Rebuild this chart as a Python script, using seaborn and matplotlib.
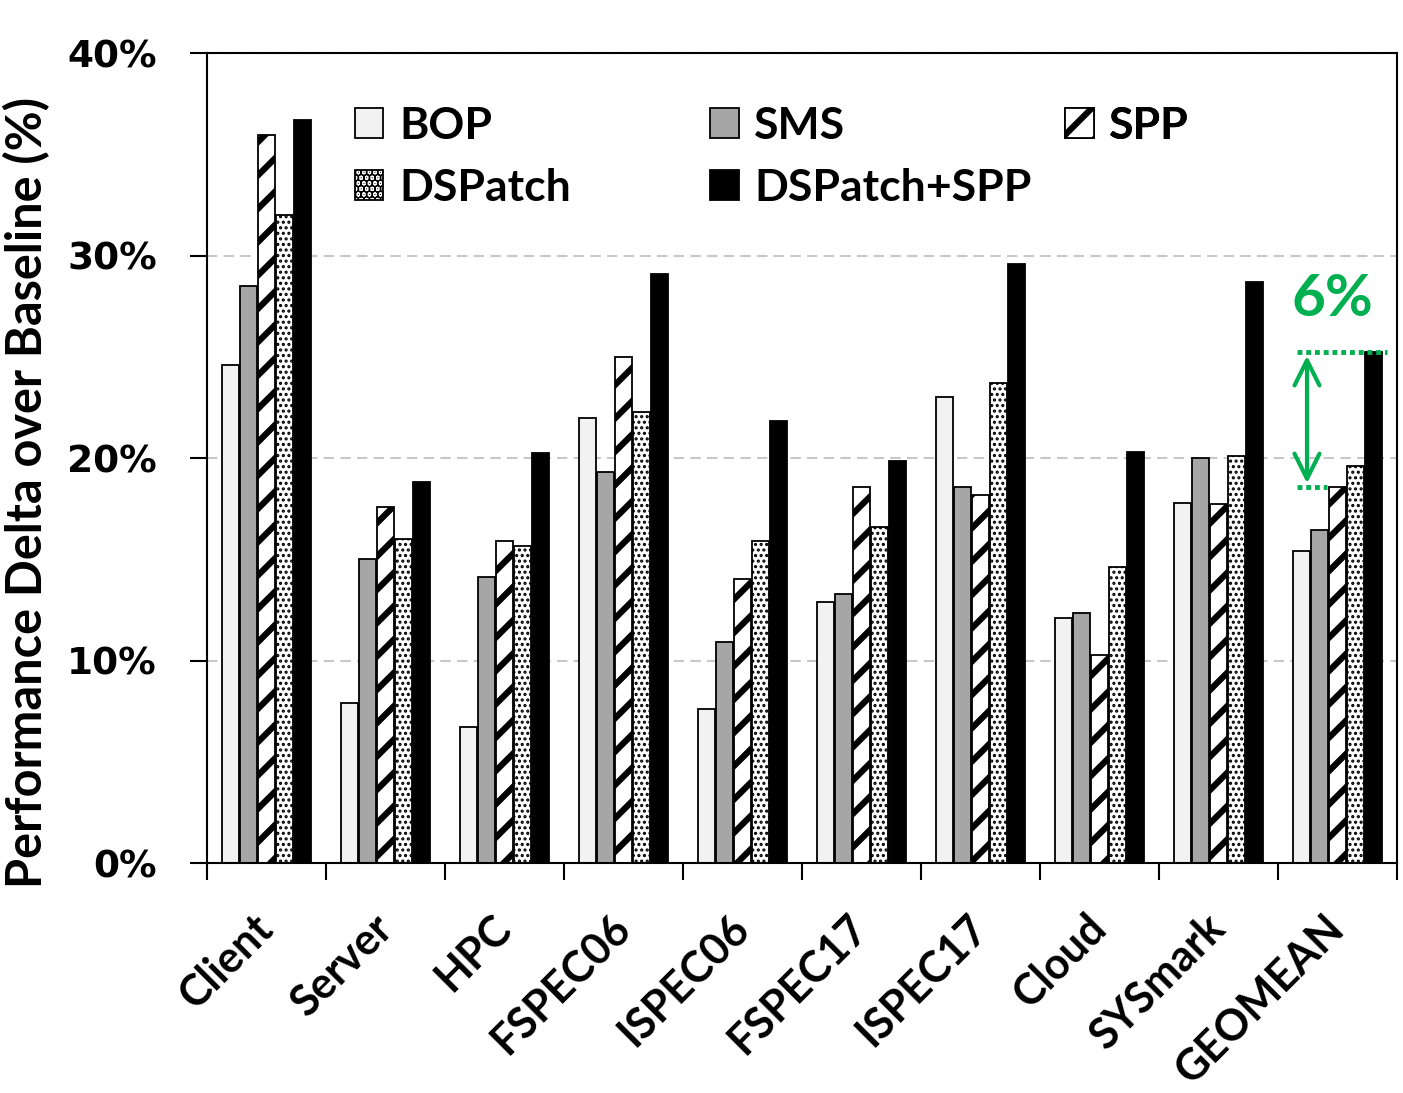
import numpy as np
import pandas as pd
import seaborn as sns
import matplotlib.pyplot as plt

benchmarks = ['Client', 'Server', 'HPC', 'FSPEC06', 'ISPEC06', 'FSPEC17', 'ISPEC17', 'Cloud', 'SYSmark', 'GEOMEAN']
schemes = ['BOP', 'SMS', 'SPP', 'DSPatch', 'DSPatch+SPP']
bop = [24.6, 7.9, 6.7, 22.0, 7.6, 12.9, 23.0, 12.1, 17.8, 15.4]
sms = [28.5, 15.0, 14.1, 19.3, 10.9, 13.3, 18.55, 12.35, 20.0, 16.45]
spp = [35.95, 17.6, 15.9, 25.0, 14.05, 18.55, 18.15, 10.25, 17.75, 18.55]
dspatch = [32.0, 16.0, 15.65, 22.25, 15.9, 16.6, 23.7, 14.6, 20.1, 19.6]
dspatch_spp = [36.7, 18.8, 20.25, 29.1, 21.85, 19.85, 29.6, 20.3, 28.7, 25.25]

colors = ['#F2F2F2', '#A6A6A6', 'white', 'white', 'black']
hatches = ['', '', '/', '...', '']
green = '#00B050'

df = pd.DataFrame({
    'Benchmark': benchmarks * 5,
    'Scheme': [s for s in schemes for _ in benchmarks],
    'Delta': bop + sms + spp + dspatch + dspatch_spp,
})

sns.set_style('ticks')
plt.rcParams['font.family'] = ['Lato', 'DejaVu Sans']
plt.rcParams['hatch.linewidth'] = 4.5
for k in ['text.color', 'axes.labelcolor', 'xtick.color', 'ytick.color', 'axes.edgecolor']:
    plt.rcParams[k] = 'black'

fig = plt.figure(figsize=(14.03, 10.93), dpi=100)
ax = fig.add_axes([0.1475, 0.2104, 0.8482, 0.7411])

sns.barplot(data=df, x='Benchmark', y='Delta', hue='Scheme', order=benchmarks,
            hue_order=schemes, palette=colors, width=0.76, gap=0.08,
            edgecolor='black', linewidth=1.3, errorbar=None, legend=False, ax=ax)

for cont, h in zip(ax.containers, hatches):
    for p in cont:
        p.set_hatch(h)
        if h == '...' and hasattr(p, 'set_hatch_linewidth'):
            p.set_hatch_linewidth(1.5)

# axes styling
ax.set_xlim(-0.5, 9.5)
ax.set_ylim(0, 40)
ax.set_axisbelow(True)
ax.yaxis.grid(True, color='#C8C8C8', linestyle=(0, (5, 3)), linewidth=1.5)
for s in ax.spines.values():
    s.set_color('black')
    s.set_linewidth(1.5)

ax.set_yticks([0, 10, 20, 30, 40], labels=['0%', '10%', '20%', '30%', '40%'],
              fontfamily='DejaVu Sans', fontweight='bold', fontsize=27)
ax.tick_params(axis='y', length=12, width=1.5, pad=24, color='black')

ax.set_xticks(range(len(benchmarks)), labels=benchmarks, rotation=45, ha='right',
              va='center', rotation_mode='anchor', fontsize=31, fontweight='bold')
ax.set_xticks(np.arange(-0.5, len(benchmarks), 1), minor=True)
ax.tick_params(axis='x', which='major', length=0, pad=42)
ax.tick_params(axis='x', which='minor', length=12, width=1.5, color='black')
ax.set_xlabel('')

ax.set_ylabel('Performance Delta over Baseline (%)', fontsize=35, fontweight='bold')
ax.yaxis.set_label_coords(-0.132, 0.458)

# legend in three fixed-width columns
cols = [([0, 3], 0.124), ([1, 4], 0.4227), ([2], 0.721)]
for idx, xpos in cols:
    leg = ax.legend([ax.containers[i] for i in idx], [schemes[i] for i in idx],
                    loc='upper left', bbox_to_anchor=(xpos, 0.935), frameon=False,
                    prop={'size': 32, 'weight': 'bold'}, handlelength=0.65,
                    handleheight=0.65, handletextpad=0.35, labelspacing=0.5,
                    borderpad=0, borderaxespad=0)
    ax.add_artist(leg)

# 6% annotation on GEOMEAN
gx = benchmarks.index('GEOMEAN')
top = dspatch_spp[gx]
low = spp[gx]
ax.plot([gx - 0.34, gx + 0.42], [top, top], color=green, lw=3.5,
        linestyle=(0, (1, 0.8)), dash_capstyle='butt')
ax.plot([gx - 0.34, gx - 0.09], [low, low], color=green, lw=3.5,
        linestyle=(0, (1, 0.8)), dash_capstyle='butt')
ax.annotate('', xy=(gx - 0.256, top - 0.2), xytext=(gx - 0.256, low + 0.2),
            arrowprops=dict(arrowstyle='<->', color=green, lw=3,
                            mutation_scale=45, shrinkA=0, shrinkB=0))
ax.text(gx - 0.04, top + 2.6, '6%', color=green, fontsize=42, fontweight='bold',
        ha='center', va='center')

fig.savefig('out.png', dpi=100)
